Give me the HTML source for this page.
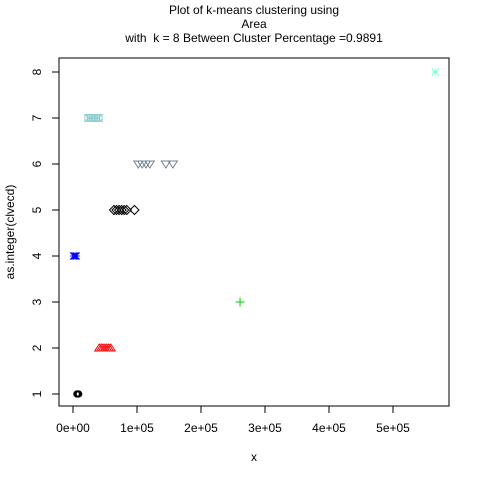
<!DOCTYPE html>
<html><head><meta charset="utf-8"><style>
html,body{margin:0;padding:0;background:#fff}
svg{display:block;font-family:"Liberation Sans",sans-serif}
</style></head><body>
<svg id="chart" width="480" height="480">
<text x="254" y="14" text-anchor="middle" font-size="12">Plot of k-means clustering using</text>
<text x="254" y="28" text-anchor="middle" font-size="12">Area</text>
<text x="254" y="42" text-anchor="middle" font-size="12">with &#160;k = 8 Between Cluster Percentage =0.9891</text>
<rect x="59" y="58" width="390" height="348" fill="none" stroke="#000"/>
<text x="254" y="461" text-anchor="middle" font-size="12">x</text>
<text transform="translate(14,232) rotate(-90)" text-anchor="middle" font-size="12">as.integer(clvecd)</text>
<g id="axes"></g>
<g id="marks"></g>
</svg>
<script>
const xTicks=[0,1e5,2e5,3e5,4e5,5e5];
const xTickLabels=["0e+00","1e+05","2e+05","3e+05","4e+05","5e+05"];
const yTicks=[1,2,3,4,5,6,7,8];
const c1x=[6000,7000,8000,9000];
const c2x=[41000,44000,47000,50000,53000,56000,59000];
const c3x=[261000];
const c4x=[1000,3000,5000];
const c5x=[64000,68000,72000,76000,80000,84000,96000];
const c6x=[102000,108000,114000,120000,145000,156000];
const c7x=[24000,28000,32000,36000,40000];
const c8x=[566000];
const clusters=[
 {xs:c1x,y:1,col:"#000000",pch:"circle"},
 {xs:c2x,y:2,col:"#ff0000",pch:"tri"},
 {xs:c3x,y:3,col:"#00cd00",pch:"plus"},
 {xs:c4x,y:4,col:"#0000ff",pch:"x8"},
 {xs:c5x,y:5,col:"#000000",pch:"diamond"},
 {xs:c6x,y:6,col:"#708090",pch:"dtri"},
 {xs:c7x,y:7,col:"#8fcfcf",pch:"sqx"},
 {xs:c8x,y:8,col:"#7fffd4",pch:"x8"}
];
const X=v=>73+v*64/1e5, Y=v=>394-(v-1)*46;
const NS="http://www.w3.org/2000/svg";
const ax=document.getElementById("axes"), mk=document.getElementById("marks");
function el(t,a,p){const e=document.createElementNS(NS,t);for(const k in a)e.setAttribute(k,a[k]);p.appendChild(e);return e;}
xTicks.forEach((v,i)=>{
 const l=el("line",{x1:X(v),x2:X(v),y1:406,y2:413,stroke:"#000"},ax);
 
 
 const t=el("text",{x:X(v),y:432,"text-anchor":"middle","font-size":12},ax);t.textContent=xTickLabels[i];
 
 
});
yTicks.forEach(v=>{
 const l=el("line",{x1:52,x2:59,y1:Y(v),y2:Y(v),stroke:"#000"},ax);
 
 
 const t=el("text",{x:0,y:0,"text-anchor":"middle","font-size":12,transform:`translate(41,${Y(v)}) rotate(-90)`},ax);t.textContent=v;
 
 
});
function mark(cx,cy,pch,col){
 const g=el("g",{stroke:col,fill:"none","stroke-width":1},mk);
 
 
 const r=3.5;
 if(pch==="circle")el("circle",{cx,cy,r:2.8,"stroke-width":1.6},g);
 else if(pch==="tri")el("polygon",{points:`${cx},${cy-4} ${cx-4.5},${cy+3} ${cx+4.5},${cy+3}`},g);
 else if(pch==="dtri")el("polygon",{points:`${cx},${cy+4} ${cx-4.5},${cy-3} ${cx+4.5},${cy-3}`},g);
 else if(pch==="plus"){el("line",{x1:cx-r-1,x2:cx+r+1,y1:cy,y2:cy},g);el("line",{x1:cx,x2:cx,y1:cy-r-1,y2:cy+r+1},g);}
 else if(pch==="diamond")el("polygon",{points:`${cx},${cy-4.5} ${cx+4.5},${cy} ${cx},${cy+4.5} ${cx-4.5},${cy}`},g);
 else if(pch==="sqx"){el("rect",{x:cx-r,y:cy-r,width:2*r,height:2*r},g);el("line",{x1:cx-r,x2:cx+r,y1:cy-r,y2:cy+r},g);el("line",{x1:cx-r,x2:cx+r,y1:cy+r,y2:cy-r},g);}
 else if(pch==="x8"){el("line",{x1:cx-r,x2:cx+r,y1:cy-r,y2:cy+r},g);el("line",{x1:cx-r,x2:cx+r,y1:cy+r,y2:cy-r},g);el("line",{x1:cx-r,x2:cx+r,y1:cy,y2:cy},g);el("line",{x1:cx,x2:cx,y1:cy-r,y2:cy+r},g);}
}
clusters.forEach(c=>c.xs.forEach(v=>mark(X(v),Y(c.y),c.pch,c.col)));
</script>
</body></html>
